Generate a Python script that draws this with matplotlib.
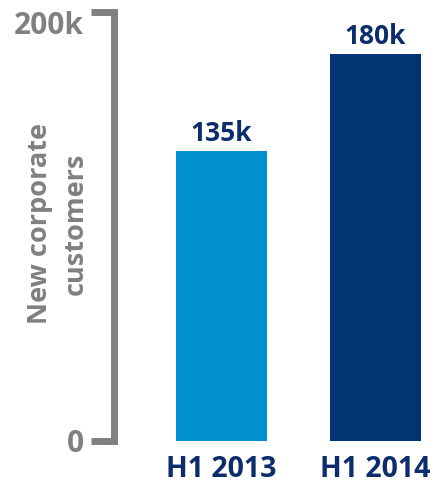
import numpy as np
import matplotlib.pyplot as plt

periods = ['H1 2013', 'H1 2014']
customers_k = [135, 180]
bar_labels = ['135k', '180k']
bar_colors = ['#0090d0', '#003473']
ytick_vals = [0, 200]
ytick_labels = ['0', '200k']

GRAY = '#808080'
NAVY = '#0d2c6c'

plt.rcParams['font.family'] = ['Open Sans', 'DejaVu Sans']
plt.rcParams['font.weight'] = 'bold'

fig = plt.figure(figsize=(4.34, 4.87), dpi=100)
ax = fig.add_axes([113.5 / 434, (487 - 441) / 487, 1 - 113.5 / 434, (441 - 11.5) / 487])

x = np.arange(len(periods))
bars = ax.bar(x, customers_k, width=0.59, color=bar_colors)
for b, lab in zip(bars, bar_labels):
    ax.annotate(lab, (b.get_x() + b.get_width() / 2, b.get_height()),
                xytext=(0, 3), textcoords='offset points', ha='center', va='bottom',
                fontsize=19, fontweight='bold', color=NAVY)

ax.set_xlim(-0.701, 1.38)
ax.set_ylim(0, 200)

for s in ['top', 'right', 'bottom']:
    ax.spines[s].set_visible(False)
ax.spines['left'].set_linewidth(5)
ax.spines['left'].set_color(GRAY)
ax.spines['left'].set_capstyle('projecting')

ax.set_yticks(ytick_vals)
ax.set_yticklabels(ytick_labels, fontsize=21.5, fontweight='bold', color=GRAY)
ax.tick_params(axis='y', length=16.5, width=5, color=GRAY, pad=5)
ax.get_yticklabels()[1].set_va('top')

ax.set_xticks(x)
ax.set_xticklabels(periods, fontsize=20.5, fontweight='bold', color=NAVY)
ax.tick_params(axis='x', length=0, pad=10)

fig.text(58 / 434, (487 - 224) / 487, 'New corporate\ncustomers', rotation=90,
         ha='center', va='center', multialignment='center',
         fontsize=19.5, fontweight='bold', color=GRAY, linespacing=1.45)

fig.savefig('out.png', dpi=100)
